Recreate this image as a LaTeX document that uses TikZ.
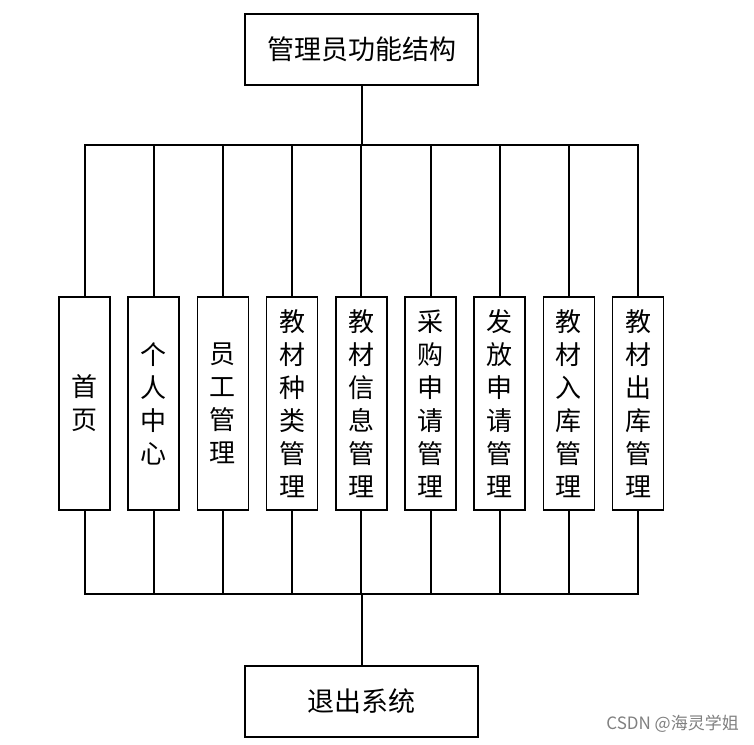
\documentclass[tikz,border=0pt]{standalone}
\usepackage{fontspec}
\setmainfont{Noto Sans CJK SC}
\newfontfamily\wmfont{Noto Sans CJK SC}
\begin{document}
\begin{tikzpicture}[x=1pt,y=-1pt,
  bigbox/.style={draw=black,line width=1.5pt,minimum width=233pt,minimum height=71pt,inner sep=0pt,font=\fontsize{27}{30}\selectfont},
  modbox/.style={draw=black,line width=1.5pt,minimum width=51pt,minimum height=213pt,inner sep=0pt,align=center,font=\fontsize{26}{33}\selectfont},
  conn/.style={line width=2pt,black}]
\useasboundingbox (0,0) rectangle (754,744);
\fill[white] (0,0) rectangle (754,744);
\node[bigbox] (top) at (361.5,49.5) {管理员功能结构};
\node[bigbox] (bot) at (361.5,701.5) {退出系统};
\coordinate (tb) at (361.5,145);
\coordinate (bb) at (361.5,594);
\foreach \i/\t in {0/{首\\页},1/{个\\人\\中\\心},2/{员\\工\\管\\理},3/{教\\材\\种\\类\\管\\理},4/{教\\材\\信\\息\\管\\理},5/{采\\购\\申\\请\\管\\理},6/{发\\放\\申\\请\\管\\理},7/{教\\材\\入\\库\\管\\理},8/{教\\材\\出\\库\\管\\理}}{
  \node[modbox] (m\i) at ({84.5+69.2*\i},403.5) {\t};
  \draw[conn] (m\i.north) |- (tb);
  \draw[conn] (m\i.south) |- (bb);
}
\draw[conn] (top.south) -- (tb);
\draw[conn] (bb) -- (bot.north);
\node[anchor=east,text=black!50,font=\wmfont\fontsize{17}{19}\selectfont,inner sep=0pt] (wm) at (739,724) {CSDN @海灵学姐};
\end{tikzpicture}
\end{document}
